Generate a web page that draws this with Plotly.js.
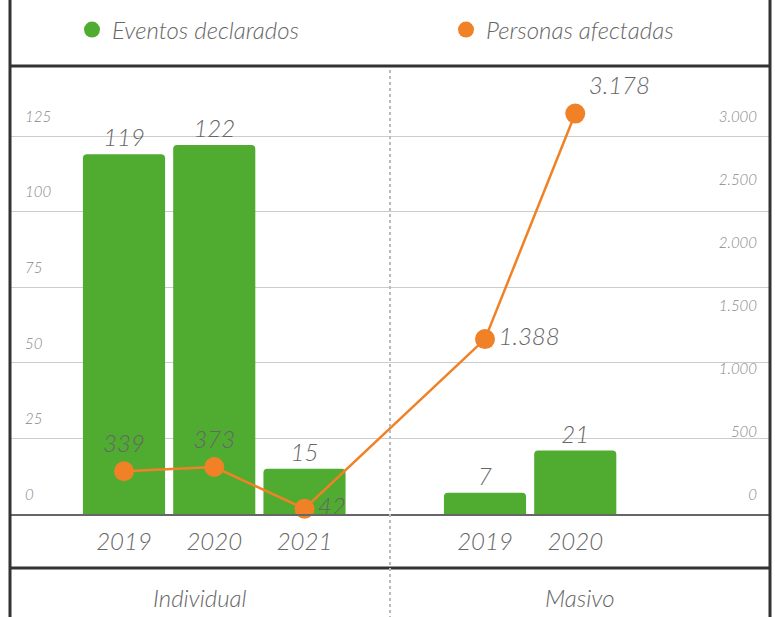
<!DOCTYPE html>
<html>
<head>
<meta charset="utf-8">
<script src="https://cdn.plot.ly/plotly-3.0.1.min.js"></script>
<style>html,body{margin:0;padding:0;background:#fff;}#chart{width:775px;height:617px;}</style>
</head>
<body>
<div id="chart"></div>
<script>
// ---- data ----
const groups = ['Individual', 'Masivo'];
const years = ['2019', '2020', '2021', '2019', '2020'];
const groupOf = ['Individual', 'Individual', 'Individual', 'Masivo', 'Masivo'];
const eventos = [119, 122, 15, 7, 21];
const personas = [339, 373, 42, 1388, 3178];
const seriesNames = ['Eventos declarados', 'Personas afectadas'];

// ---- styles ----
const GREEN = '#4fac31';
const ORANGE = '#f08126';
const FONT = 'Lato, "Open Sans", sans-serif';

// positions: one empty slot between groups
const xpos = years.map((y, i) => i + groups.indexOf(groupOf[i]));

const bars = {
  type: 'bar', x: xpos, y: eventos, name: seriesNames[0], showlegend: false,
  marker: {color: GREEN}, text: eventos.map(String), textposition: 'outside',
  textfont: {family: FONT, size: 24, color: '#666', style: 'italic', weight: 300},
  cliponaxis: false, hoverinfo: 'y'
};
const line = {
  type: 'scatter', mode: 'lines+markers+text', x: xpos, y: personas, yaxis: 'y2',
  name: seriesNames[1], showlegend: false,
  line: {color: ORANGE, width: 2.5}, marker: {color: ORANGE, size: 20},
  texttemplate: '%{y:,}', textposition: ['top center', 'top center', 'middle right', 'middle right', 'top right'],
  textfont: {family: FONT, size: 24, color: '#666', style: 'italic', weight: 300},
  cliponaxis: false
};
const leg1 = {type: 'scatter', mode: 'markers', x: [null], y: [null], name: seriesNames[0], legend: 'legend', marker: {color: GREEN, size: 20, symbol: 'circle'}};
const leg2 = {type: 'scatter', mode: 'markers', x: [null], y: [null], name: seriesNames[1], legend: 'legend2', marker: {color: ORANGE, size: 20, symbol: 'circle'}};

const PT = 67, PB = 514, PL = 10, PR = 770;
const H = PB - PT;
const py = (pix) => (PB - pix) / H;
const px = (pix) => (pix - PL) / (PR - PL);

const shapes = [
  {type: 'line', xref: 'paper', yref: 'paper', x0: 0, x1: 1, y0: py(66), y1: py(66), line: {color: '#333', width: 3}},
  {type: 'line', xref: 'paper', yref: 'paper', x0: 0, x1: 1, y0: py(568), y1: py(568), line: {color: '#333', width: 3}},
  {type: 'line', xref: 'paper', yref: 'paper', x0: 0, x1: 0, y0: py(-5), y1: py(625), line: {color: '#333', width: 3}},
  {type: 'line', xref: 'paper', yref: 'paper', x0: 1, x1: 1, y0: py(-5), y1: py(625), line: {color: '#333', width: 3}},
  {type: 'line', xref: 'paper', yref: 'paper', x0: 0.5, x1: 0.5, y0: py(70), y1: py(625), line: {color: '#bbb', width: 2, dash: 'dot'}}
];

const annotations = groups.map((g, k) => ({
  xref: 'paper', yref: 'paper', x: 0.25 + 0.5 * k, y: py(597), text: g, showarrow: false,
  xanchor: 'center', yanchor: 'middle',
  font: {family: FONT, size: 24, color: '#666', style: 'italic', weight: 300}
}));

const tickFont = {family: FONT, size: 15, color: '#888', style: 'italic', weight: 300};
const legFont = {family: FONT, size: 24, color: '#666', style: 'italic', weight: 300};

const layout = {
  width: 775, height: 617,
  margin: {l: PL, r: 775 - PR, t: PT, b: 617 - PB, autoexpand: false},
  paper_bgcolor: '#fff', plot_bgcolor: '#fff',
  separators: ',.',
  showlegend: true,
  legend: {orientation: 'h', x: px(72), xanchor: 'left', y: py(30), yanchor: 'middle',
    bgcolor: 'rgba(0,0,0,0)', itemsizing: 'trace', font: legFont},
  legend2: {orientation: 'h', x: px(446), xanchor: 'left', y: py(30), yanchor: 'middle',
    bgcolor: 'rgba(0,0,0,0)', itemsizing: 'trace', font: legFont},
  bargap: 0.09,
  barcornerradius: 4,
  xaxis: {range: [-114 / 90.25, 646 / 90.25], tickvals: xpos, ticktext: years,
    showgrid: false, zeroline: false, showline: true, linecolor: '#666', linewidth: 1.5,
    ticks: '', tickfont: {family: FONT, size: 24, color: '#666', style: 'italic', weight: 300},
    ticklabelstandoff: 6, fixedrange: true},
  yaxis: {range: [0, H / 3.024], dtick: 25, tick0: 0, showgrid: true, gridcolor: '#ccc', gridwidth: 1,
    zeroline: false, showline: false, ticks: '', ticklabelposition: 'inside top',
    ticklabelstandoff: 12, ticklabelshift: -9, tickfont: tickFont},
  yaxis2: {range: [0, H / 3.024 * 24], dtick: 500, tick0: 0, overlaying: 'y', side: 'right', anchor: 'x',
    showgrid: false, zeroline: false, showline: false, ticks: '', ticklabelposition: 'inside top',
    tickformat: ',d', ticklabelstandoff: 10, ticklabelshift: -9, tickfont: tickFont},
  shapes: shapes,
  annotations: annotations
};

Plotly.newPlot('chart', [bars, line, leg1, leg2], layout, {displayModeBar: false, staticPlot: true});
</script>
</body>
</html>
